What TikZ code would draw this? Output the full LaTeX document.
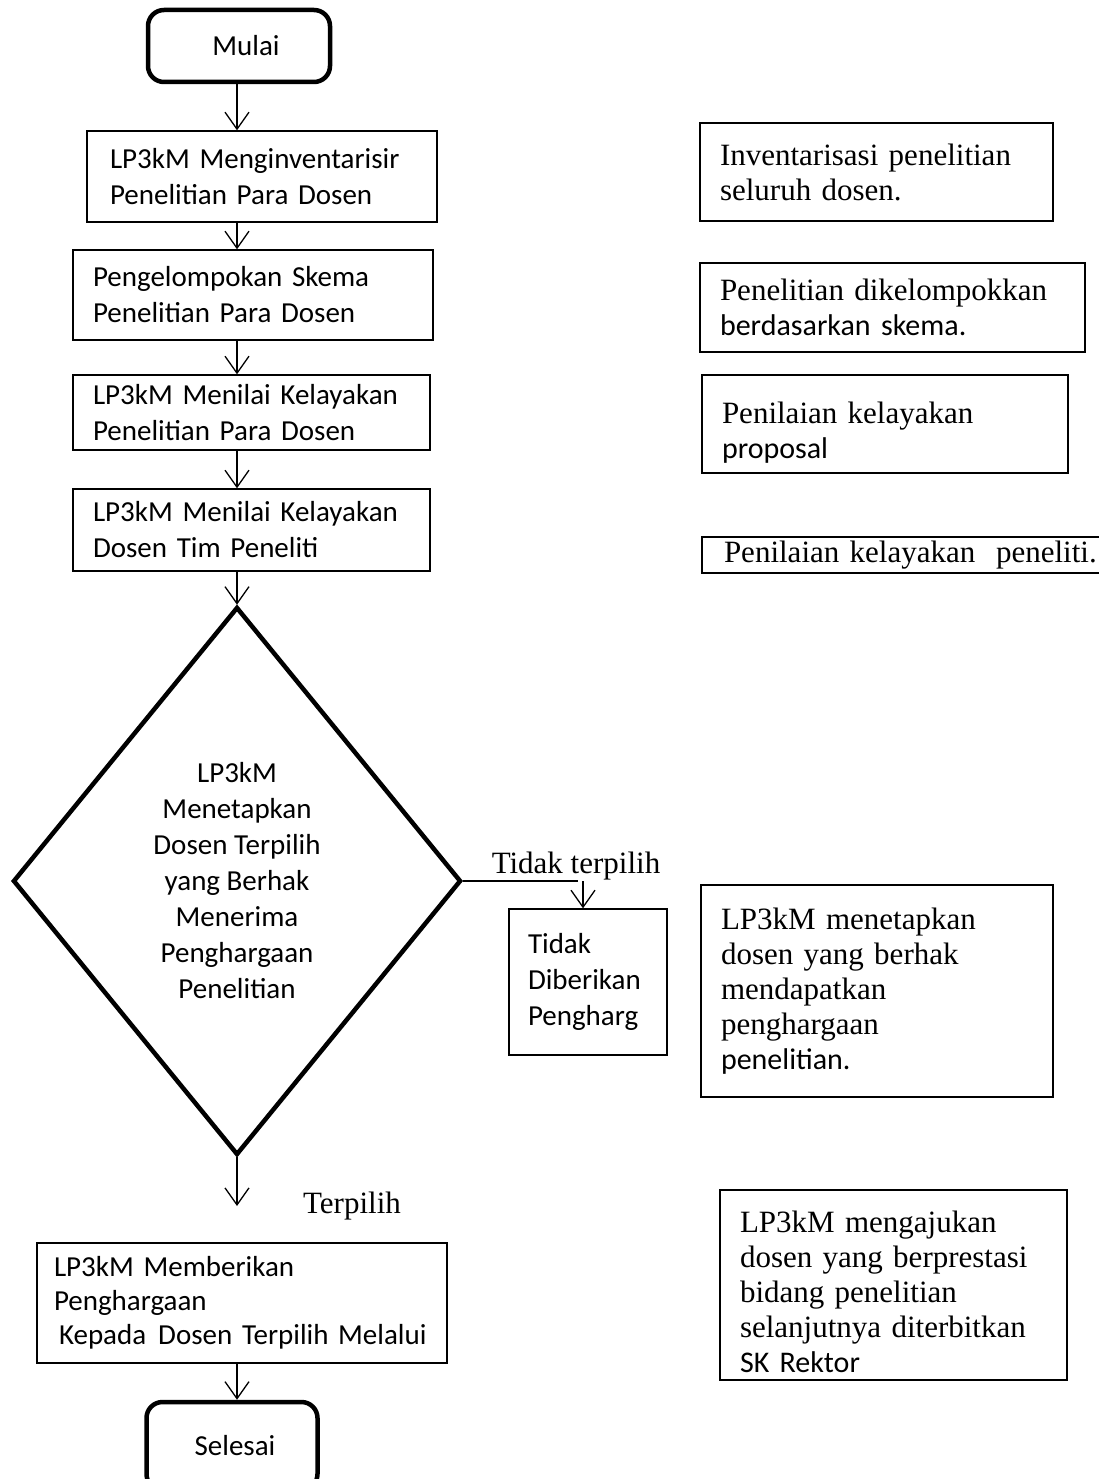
\documentclass[tikz,border=0pt]{standalone}
\usepackage{fontspec}
\setmainfont{Carlito}
\newfontfamily\tnr{Liberation Serif}
\usetikzlibrary{arrows.meta,shapes.geometric}
\newcommand\cbl{\normalfont\fontsize{30}{35}\selectfont}
\tikzset{
  thin box/.style={draw, line width=1.4pt, align=left, inner ysep=0pt,
    font=\fontsize{29}{36}\selectfont},
  note box/.style={draw, line width=1.4pt, align=left, inner ysep=0pt, inner xsep=20pt,
    font=\tnr\fontsize{31}{35}\selectfont},
  terminal/.style={draw, line width=4.5pt, rounded corners=16pt,
    font=\fontsize{29}{36}\selectfont},
  arr/.style={line width=1.3pt, -{Straight Barb[length=17pt,width=24pt]}},
  link/.style={line width=2pt},
  lbl/.style={font=\tnr\fontsize{31}{35}\selectfont, inner sep=0pt, anchor=base}
}
\begin{document}
\begin{tikzpicture}[x=1pt,y=-1pt]
\useasboundingbox (0,0) rectangle (1099,1479);
\clip (0,0) rectangle (1099,1479);
\coordinate (spine) at (237,0);

% main flow
\node[terminal, minimum width=182pt, minimum height=72pt] (mulai) at (239,46) {\hspace*{14pt}Mulai};
\node[thin box, inner xsep=23pt, text width=304pt, minimum height=91pt] (b1) at (262,176.5)
  {LP3kM Menginventarisir\\Penelitian Para Dosen};
\node[thin box, inner xsep=20pt, text width=320pt, minimum height=90pt] (b2) at (253,295)
  {Pengelompokan Skema\\Penelitian Para Dosen};
\node[thin box, inner xsep=20pt, text width=317pt, minimum height=75pt] (b3) at (251.5,412.5)
  {LP3kM Menilai Kelayakan\\Penelitian Para Dosen};
\node[thin box, inner xsep=20pt, text width=317pt, minimum height=82pt] (b4) at (251.5,530)
  {LP3kM Menilai Kelayakan\\Dosen Tim Peneliti};
\node[diamond, draw, line width=4.5pt, inner sep=0pt, minimum width=448pt, minimum height=548pt,
  align=center, font=\fontsize{29}{36}\selectfont] (dia) at (237,881)
  {LP3kM\\Menetapkan\\Dosen Terpilih\\yang Berhak\\Menerima\\Penghargaan\\Penelitian};
\node[thin box, inner xsep=19pt, text width=120pt, minimum height=146pt] (tidak) at (588,982)
  {Tidak\\Diberikan\\Pengharg};
\node[thin box, inner xsep=17pt, text width=376pt, minimum height=120pt,
  font=\fontsize{29}{34}\selectfont] (final) at (242,1303)
  {LP3kM Memberikan\\Penghargaan\\\mbox{\hspace*{5pt}Kepada\hspace{12pt}Dosen Terpilih Melalui}};
\node[terminal, minimum width=171pt, minimum height=88pt] (selesai) at (232,1446) {\hspace*{6pt}Selesai};

% connectors
\draw[arr] (spine |- mulai.south) -- (spine |- b1.north);
\draw[arr] (spine |- b1.south) -- (spine |- b2.north);
\draw[arr] (spine |- b2.south) -- (spine |- b3.north);
\draw[arr] (spine |- b3.south) -- (spine |- b4.north);
\draw[arr] (spine |- b4.south) -- (dia.north);
\coordinate (tend) at (578,881);
\coordinate (tdrop) at (583,881);
\draw[link] (dia.east) -- (tend);
\draw[arr] (tdrop) -- (tdrop |- tidak.north);
\coordinate (yend) at (237,1206);
\draw[arr] (dia.south) -- (yend);
\draw[arr] (spine |- final.south) -- (spine |- selesai.north);

% branch labels
\node[lbl] (ltidak) at (576,873) {Tidak terpilih};
\node[lbl] (lya) at (352,1213) {Terpilih};

% notes
\node[note box, text width=313pt, minimum height=98pt] (n1) at (876.5,172)
  {Inventarisasi penelitian\\seluruh dosen.};
\node[note box, text width=345pt, minimum height=89pt] (n2) at (892.5,307.5)
  {Penelitian dikelompokkan\\{\cbl berdasarkan skema.}};
\node[note box, text width=326pt, minimum height=98pt] (n3) at (885,424)
  {\rule{0pt}{39pt}Penilaian kelayakan\\{\cbl proposal}};
\node[note box, inner xsep=22pt, text width=374pt, minimum height=36pt] (n4) at (911,555)
  {Penilaian kelayakan\ \ peneliti.};
\node[note box, text width=312pt, minimum height=212pt] (n5) at (877,991)
  {LP3kM menetapkan\\dosen yang berhak\\mendapatkan\\penghargaan\\{\cbl penelitian.}};
\node[note box, text width=307pt, minimum height=190pt] (n6) at (893.5,1285)
  {\rule{0pt}{35pt}LP3kM mengajukan\\dosen yang berprestasi\\bidang penelitian\\selanjutnya diterbitkan\\{\cbl SK Rektor}};
\end{tikzpicture}
\end{document}
